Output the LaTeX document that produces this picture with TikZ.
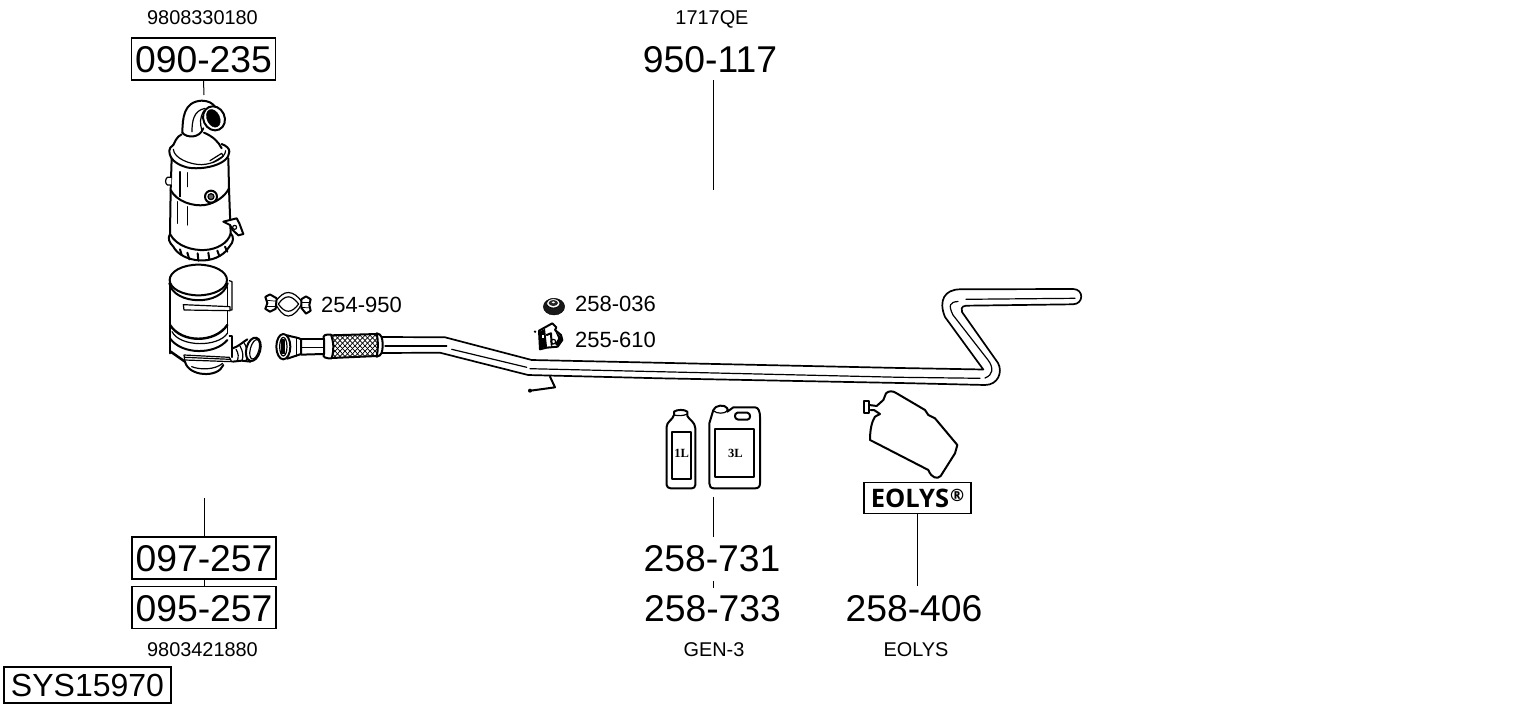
\documentclass[tikz,border=0pt]{standalone}
\usepackage{fontspec}
\setmainfont{Liberation Sans}
\newfontfamily\eolysfont{Open Sans}
\newfontfamily\bottlefont{Liberation Serif}
\tikzset{
  x=1pt,y=-1pt,
  partno/.style={font=\fontsize{37.3}{37}\selectfont,minimum width=144pt,minimum height=42pt,inner sep=0pt,text height=27pt,text depth=0pt},
  partbox/.style={partno,draw=black,line width=1.1pt},
  ref/.style={font=\fontsize{19.9}{20}\selectfont,inner sep=0pt,text height=14pt,text depth=0pt},
  small/.style={font=\fontsize{22}{22}\selectfont,inner sep=0pt,anchor=west},
  leader/.style={draw=black,line width=1pt},
  ink/.style={draw=black,line width=1.2pt,line join=round,line cap=round},
  thick ink/.style={draw=black,line width=2pt,line join=round,line cap=round},
  fine/.style={draw=black,line width=.7pt,line cap=round},
  bottle label/.style={font=\bottlefont\bfseries\fontsize{12.5}{12.5}\selectfont,inner sep=0pt}
}
\begin{document}
\begin{tikzpicture}
\useasboundingbox (0,0) rectangle (1530,711);
% ---- texts
\node[ref] at (202.5,18) {9808330180};
\node[ref] at (712,18) {1717QE};
\node[partbox] (a) at (203.5,59) {090-235};
\node[partno] (b) at (710,59) {950-117};
\node[partbox] (c) at (204,558) {097-257};
\node[partbox] (d) at (204,607.5) {095-257};
\node[ref] at (202.5,649) {9803421880};
\node[partno] (e) at (712,558) {258-731};
\node[partno] (f) at (712.5,607.5) {258-733};
\node[partno] (g) at (914,607.5) {258-406};
\node[ref] at (714,649) {GEN-3};
\node[ref] at (916,649) {EOLYS};
\node[draw=black,line width=1.1pt,font=\fontsize{32}{32}\selectfont,minimum width=167pt,minimum height=36pt,inner sep=0pt] (s) at (87.5,685) {SYS15970};
\node[small] at (321,305) {254-950};
\node[small] at (575,304) {258-036};
\node[small] at (575,340) {255-610};
\node[draw=black,line width=1.3pt,minimum width=107pt,minimum height=31pt,inner sep=0pt,font=\eolysfont\bfseries\fontsize{25.5}{25.5}\selectfont] (h) at (917.5,498) {EOLYS\hspace{1pt}\raisebox{6pt}{\fontsize{17}{17}\selectfont ®}};
% ---- leaders
\coordinate (a1) at (204,95);
\coordinate (b1) at (713,190);
\coordinate (c1) at (204,498);
\coordinate (e1) at (713,497);
\draw[leader] (a.south) -- (a1);
\draw[leader] (b.south -| b1) -- (b1);
\draw[leader] (c.north) -- (c1);
\draw[leader] (c.south) -- (d.north);
\draw[leader] (e.north -| e1) -- (e1);
\draw[leader] ([yshift=-2pt]e.south -| e1) -- ([yshift=-2pt]f.north -| e1);
\draw[leader] (h.south) -- (h.south |- g.north);
% ---- upper converter
\begin{scope}[shift={(130,90)},scale=1/3]
\draw[thick ink] (157,128) .. controls (158,85) and (160,35) .. (215,32) .. controls (235,32) and (248,40) .. (255,50);
\draw[ink] (186,125) .. controls (186,95) and (190,62) .. (225,55);
\draw[ink] (216,122) .. controls (210,100) and (208,85) .. (222,62);
\draw[thick ink] (157,128) .. controls (170,145) and (210,145) .. (220,115);
\draw[thick ink,fill=white,rotate around={25:(252,85)}] (252,85) ellipse (32 and 37);
\draw[fill=black,rotate around={25:(250,85)}] (250,85) ellipse (19 and 28);
\draw[thick ink] (155,133) .. controls (140,140) and (135,155) .. (130,165);
\draw[thick ink] (222,128) .. controls (250,140) and (265,155) .. (275,175);
\draw[thick ink] (130,165) .. controls (122,170) and (118,175) .. (118,182) .. controls (118,205) and (135,222) .. (170,232) .. controls (215,242) and (298,225) .. (298,185) .. controls (298,175) and (290,168) .. (275,162);
\draw[ink] (130,178) .. controls (132,205) and (180,224) .. (215,224) .. controls (250,222) and (285,205) .. (287,182);
\draw[ink] (240,212) -- (275,190) -- (280,198) -- (248,218);
\draw[thick ink] (125,205) -- (122,300) .. controls (140,335) and (190,350) .. (225,345) .. controls (255,340) and (285,320) .. (297,295) -- (295,205);
\draw[thick ink] (122,300) -- (120,432) .. controls (140,470) and (190,482) .. (225,480) .. controls (260,478) and (295,460) .. (302,430) -- (297,295);
\draw[ink] (150,245) -- (150,320);
\draw[ink] (172,248) -- (172,290);
\draw[ink] (143,335) -- (143,400);
\draw[ink] (172,350) -- (172,405);
\draw[thick ink] (120,432) .. controls (112,445) and (118,458) .. (130,470) .. controls (155,518) and (260,532) .. (298,470) .. controls (312,455) and (312,440) .. (302,430);
\foreach \xa/\ya/\xb/\yb in {150/478/155/495,172/488/178/508,203/490/205/512,235/488/238/508,262/482/268/498,285/470/292/485}{\draw[thick ink] (\xa,\ya) -- (\xb,\yb);}
\draw[ink,fill=white] (124,262) -- (112,262) .. controls (105,268) and (105,280) .. (112,285) -- (124,285);
\draw[thick ink,fill=white] (243,320) circle (18);
\draw[ink,fill=black!60] (243,320) circle (9);
\draw[thick ink,fill=white] (280,395) -- (320,385) -- (328,400) -- (340,432) -- (325,436) -- (308,420) -- (300,405) -- cycle;
\draw[ink] (314,412) circle (6);
\end{scope}
% ---- lower converter
\begin{scope}[shift={(150,260)},scale=1/3]
\draw[thick ink,fill=white] (145,60) ellipse (86 and 46);
\draw[thick ink] (58,70) .. controls (72,135) and (215,140) .. (233,70);
\draw[thick ink] (60,65) -- (60,280);
\draw[ink] (232,80) -- (232,220);
\draw[line width=2.4pt,line cap=round] (60,195) .. controls (95,250) and (195,250) .. (232,195);
\draw[thick ink] (60,235) .. controls (95,285) and (195,285) .. (232,240);
\draw[ink] (66,215) .. controls (90,262) and (205,262) .. (232,220);
\draw[ink] (238,62) -- (246,65) -- (246,150) -- (238,150);
\draw[ink,fill=white] (100,134) -- (240,140) -- (240,152) -- (102,150) -- cycle;
\end{scope}
\begin{scope}[shift={(160,320)},scale=1/3]
\draw[line width=2.5pt,line cap=round] (32,95) -- (75,125);
\draw[thick ink] (75,125) .. controls (85,170) and (175,175) .. (190,135);
\draw[ink] (95,140) .. controls (120,150) and (165,150) .. (188,130);
\draw[ink,fill=white] (72,105) -- (208,112) -- (215,125) -- (74,120) -- cycle;
\draw[ink] (75,112) -- (210,118);
\draw[ink] (208,48) -- (216,48) -- (216,112);
\draw[thick ink] (218,85) .. controls (235,80) and (250,65) .. (262,58);
\draw[thick ink] (218,125) -- (245,122) -- (272,125);
\draw[ink] (228,88) .. controls (236,100) and (236,112) .. (232,122);
\draw[ink] (240,78) .. controls (250,95) and (250,110) .. (246,122);
\draw[ink] (252,68) .. controls (265,90) and (265,110) .. (258,122);
\draw[thick ink,fill=white,rotate around={-15:(280,88)}] (280,88) ellipse (21 and 36);
\draw[ink,rotate around={-15:(284,88)}] (284,88) ellipse (13 and 30);
\end{scope}
% ---- clamp
\begin{scope}[shift={(260,281)},xscale=1/3,yscale=.48]
\draw[ink,fill=white] (44,45) .. controls (60,30) and (72,24) .. (85,24) .. controls (100,24) and (115,32) .. (127,45) .. controls (115,62) and (100,73) .. (85,73) .. controls (70,73) and (58,62) .. (44,45) -- cycle;
\draw[ink,fill=white] (55,48) .. controls (65,38) and (75,33) .. (85,33) .. controls (95,33) and (105,38) .. (116,48) .. controls (105,58) and (95,63) .. (85,63) .. controls (75,63) and (65,58) .. (55,48) -- cycle;
\draw[thick ink,fill=white] (16,33) -- (30,28) -- (50,36) -- (47,58) -- (30,64) -- (16,58) -- (22,46) -- cycle;
\draw[fine] (18,40) -- (47,42);
\draw[fine] (20,52) -- (47,52);
\draw[thick ink,fill=white] (124,38) -- (138,32) -- (152,38) -- (148,50) -- (152,62) -- (138,68) -- (124,56) -- cycle;
\draw[fine] (126,44) -- (150,44);
\draw[fine] (126,55) -- (150,56);
\end{scope}
% ---- flange and braid
\begin{scope}[shift={(150,260)},scale=1/3]
\draw[thick ink,fill=white] (400,260) ellipse (21 and 38);
\draw[ink] (400,260) ellipse (11 and 28);
\draw[ink,fill=black] (396,240) rectangle (403,280);
\draw[thick ink] (412,226) .. controls (430,232) and (445,232) .. (453,238) -- (453,282) .. controls (445,285) and (430,290) .. (412,296);
\draw[ink] (440,232) -- (440,288);
\draw[thick ink] (453,238) -- (520,238);
\draw[ink] (453,262) -- (520,262);
\draw[thick ink] (453,284) -- (520,282);
\begin{scope}
\clip (543,226) -- (682,222) -- (682,288) -- (545,294) -- cycle;
\foreach \k in {0,...,24}{
  \draw[line width=.7pt] (470+\k*15,300) -- (550+\k*15,215);
  \draw[line width=.7pt] (470+\k*15,215) -- (550+\k*15,300);
}
\end{scope}
\draw[thick ink] (543,226) -- (682,222);
\draw[thick ink] (545,294) -- (682,288);
\draw[thick ink,fill=white] (522,238) .. controls (515,225) and (530,222) .. (543,224) .. controls (552,250) and (552,270) .. (545,295) .. controls (530,296) and (515,292) .. (522,282) -- cycle;
\draw[thick ink,fill=white] (680,220) .. controls (695,222) and (698,235) .. (698,255) .. controls (698,275) and (695,288) .. (680,290) .. controls (685,265) and (685,245) .. (680,220) -- cycle;
\end{scope}
% ---- pipe
\draw[thick ink,line width=1.7pt] (382,337) -- (445,337.3) -- (531.7,360) -- (900,368) -- (983.3,369.5) -- (945,317) .. controls (938,300) and (945,289.5) .. (960,289.3) -- (1073,289) .. controls (1084,289) and (1084,304) .. (1073,304.3) -- (966,305.7) .. controls (961,306) and (961,310) .. (962,312) -- (998,363) .. controls (1003,372) and (998,385) .. (985,385) -- (900,383) -- (660,378.3) -- (528,375) -- (440,352.7) -- (382,353);
\draw[ink] (385,346) -- (446.7,346);
\draw[ink] (451.7,349.3) -- (526.7,367.3);
\draw[ink] (530,368.7) -- (900,377.3) -- (980,378.3);
\draw[ink] (985,378) .. controls (993,375) and (994,368) .. (988,360) -- (953,315) .. controls (948,305) and (950,302) .. (958,301.5);
\draw[ink] (966,299.3) -- (1075,298.3);
\begin{scope}[shift={(400,280)},scale=1/3]
\draw[thick ink] (450,290) -- (465,322) -- (392,332);
\fill (390,332) circle (6);
\end{scope}
% ---- nut and isolator
\begin{scope}[shift={(525,290)},scale=1/3]
\draw[fill=black!90,draw=black] (87,50) ellipse (32 and 25);
\draw[fill=white,draw=black,line width=.8pt] (85,40) ellipse (20 and 14);
\fill[black!85] (85,39) ellipse (14 and 9);
\fill[white] (85,37) ellipse (5 and 3);
\draw[thick ink,fill=white] (42,122) -- (82,100) -- (94,112) -- (90,120) -- (108,135) -- (112,150) -- (98,170) -- (65,173) -- (45,178) -- cycle;
\fill (42,126) -- (60,116) -- (66,170) -- (46,176) -- cycle;
\fill[white] (50,135) rectangle (56,145);
\fill (90,122) -- (112,145) -- (98,170) -- (90,162) -- (100,145) -- cycle;
\fill (30,125) circle (4);
\draw[ink,fill=white] (85,155) circle (7);
\draw[thick ink] (65,135) -- (78,130) -- (80,165);
\end{scope}
% ---- bottles
\begin{scope}[shift={(650,390)},scale=1/3]
\draw[thick ink] (50,110) .. controls (50,95) and (68,90) .. (72,75) -- (72,65) .. controls (80,58) and (105,58) .. (112,65) -- (112,78) .. controls (118,90) and (135,95) .. (136,115) -- (136,285) .. controls (136,292) and (130,295) .. (125,295) -- (62,295) .. controls (55,295) and (50,290) .. (50,285) -- cycle;
\draw[ink] (72,75) .. controls (85,78) and (100,78) .. (112,72);
\draw[thick ink] (65,127) rectangle (122,266);
\node[bottle label] at (95,190) {1L};
\draw[thick ink] (178,100) -- (190,60) .. controls (195,45) and (225,42) .. (232,55) -- (232,65) -- (250,52) -- (315,52) .. controls (325,52) and (330,65) .. (330,80) -- (330,280) .. controls (330,290) and (325,295) .. (315,295) -- (192,295) .. controls (182,295) and (178,288) .. (178,280) -- cycle;
\draw[ink] (190,62) .. controls (200,72) and (225,72) .. (232,62);
\draw[thick ink] (195,118) rectangle (311,260);
\draw[thick ink] (262,68) -- (292,68) .. controls (303,70) and (303,88) .. (292,89) -- (265,89) .. controls (252,88) and (252,70) .. (262,68) -- cycle;
\node[bottle label] at (256,190) {3L};
% eolys bag
\draw[thick ink] (680,48) -- (700,30) -- (708,10) .. controls (715,2) and (730,2) .. (740,10) -- (825,60) -- (835,75) -- (855,85) -- (922,165) -- (915,190) -- (872,258) .. controls (862,268) and (845,265) .. (835,240) -- (670,155) -- (660,150) .. controls (660,120) and (665,95) .. (675,80) -- (690,72) -- (672,60) -- (662,60);
\draw[thick ink] (642,32) -- (658,32) -- (658,70) -- (642,70) -- cycle;
\draw[thick ink] (658,45) -- (680,48);
\end{scope}
\end{tikzpicture}
\end{document}
